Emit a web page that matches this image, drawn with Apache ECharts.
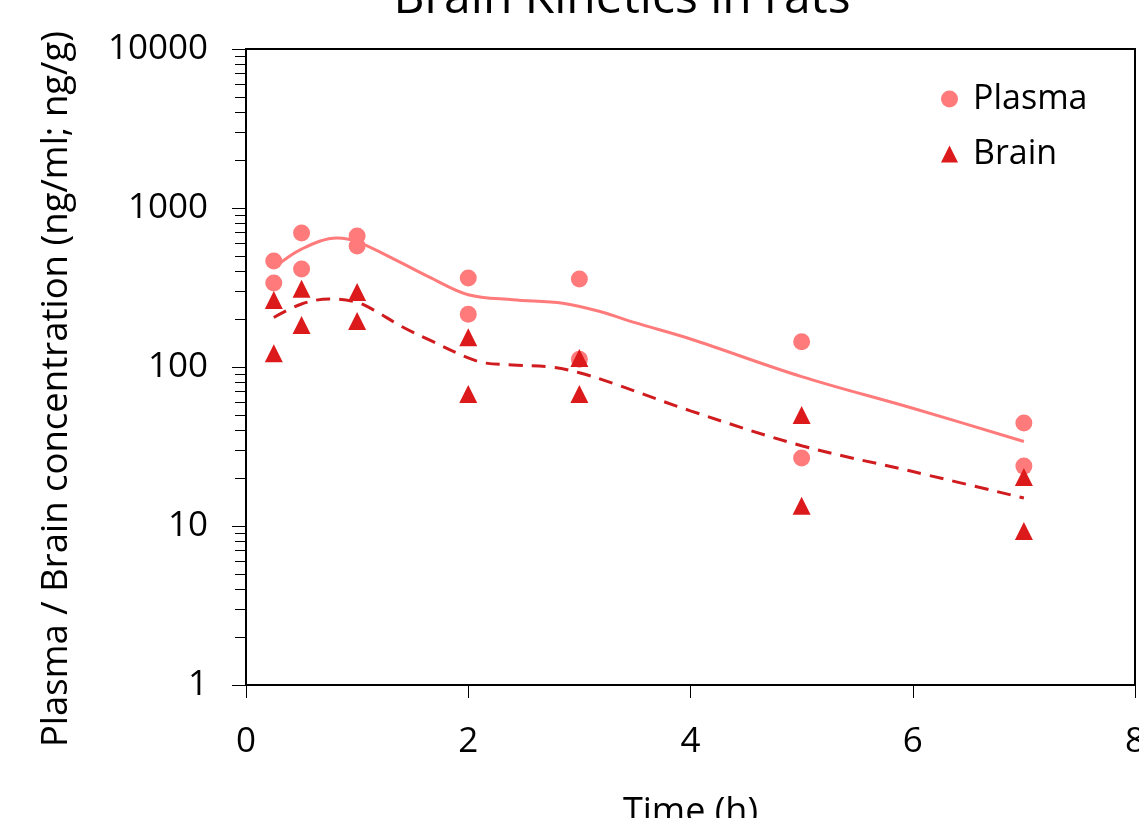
<!DOCTYPE html>
<html>
<head>
<meta charset="utf-8">
<script src="https://cdn.jsdelivr.net/npm/echarts@6/dist/echarts.min.js"></script>
<style>
  html, body { margin: 0; padding: 0; background: #fff; }
  #chart { width: 1139px; height: 818px; }
</style>
</head>
<body>
<div id="chart"></div>
<script>
// observed samples (two animals per time point)
var sampleTimes = [0.25, 0.25, 0.5, 0.5, 1, 1, 2, 2, 3, 3, 5, 5, 7, 7];
var plasmaValues = [464, 338, 697, 413, 667, 577, 363, 215, 358, 112, 144, 26.8, 44.4, 23.8];
var brainValues = [264, 122, 310, 184, 296, 195, 154, 67.6, 114, 67.6, 49.9, 13.4, 20.3, 9.3];

// fitted curves
var plasmaFitTimes = [0.25, 0.5, 0.82, 1, 1.35, 1.65, 2, 2.4, 2.85, 3.2, 3.5, 4, 5, 6, 7];
var plasmaFitValues = [420, 552, 648, 615, 470, 368, 285, 265, 252, 222, 190, 150, 87, 55, 34];
var brainFitTimes = [0.25, 0.5, 0.75, 1, 1.15, 1.4, 1.65, 2, 2.15, 2.4, 2.75, 3, 3.3, 4, 5, 6, 7];
var brainFitValues = [205, 249, 268, 255, 228, 180, 148, 114, 106, 103, 100, 92, 79, 53, 32, 22, 15];

var plasmaColor = '#ff7b7b';
var brainColor = '#dc1a1c';
var fontFamily = '"Open Sans", "Noto Sans", sans-serif';

var pairs = function (xs, ys) {
  var out = [];
  for (var i = 0; i < xs.length; i++) {
    out.push([xs[i], ys[i]]);
  }
  return out;
};

// minor tick positions of the log axis, in decades (for a hidden helper axis)
var minorTicks = [];
for (var d = 0; d < 4; d++) {
  for (var k = 2; k <= 9; k++) {
    minorTicks.push(d + Math.log10(k));
  }
}

var chart = echarts.init(document.getElementById('chart'), null, {renderer: 'canvas'});

var option = {
  animation: false,
  backgroundColor: '#fff',
  textStyle: {fontFamily: fontFamily},
  title: {
    text: 'Brain Kinetics in rats',
    left: 617,
    textAlign: 'center',
    top: -30,
    textStyle: {fontSize: 48, fontWeight: 'normal', color: '#000', fontFamily: fontFamily}
  },
  legend: {
    orient: 'vertical',
    left: 936,
    top: 74,
    itemWidth: 17,
    itemHeight: 17,
    itemGap: 15,
    data: ['Plasma', 'Brain'],
    textStyle: {fontSize: 34, color: '#000', lineHeight: 40, padding: [0, 0, 0, 10], fontFamily: fontFamily}
  },
  grid: {
    left: 246,
    right: 4,
    top: 49,
    bottom: 133,
    outerBoundsMode: 'none',
    show: true,
    borderColor: '#000',
    borderWidth: 2
  },
  graphic: [{
    type: 'text',
    x: 57,
    y: 389,
    rotation: Math.PI / 2,
    style: {
      text: 'Plasma / Brain concentration (ng/ml; ng/g)',
      fontSize: 36.5,
      fontFamily: fontFamily,
      fill: '#000',
      align: 'center',
      verticalAlign: 'middle'
    }
  }],
  xAxis: {
    type: 'value',
    min: 0,
    max: 8,
    interval: 2,
    name: 'Time (h)',
    nameLocation: 'middle',
    nameGap: 110,
    nameTextStyle: {fontSize: 36, color: '#000', fontFamily: fontFamily},
    axisLine: {lineStyle: {color: '#000', width: 2}},
    axisTick: {show: true, inside: false, length: 13, lineStyle: {color: '#000', width: 1}},
    axisLabel: {fontSize: 35, color: '#000', margin: 40, fontFamily: fontFamily},
    splitLine: {show: false}
  },
  yAxis: [{
    type: 'log',
    logBase: 10,
    min: 1,
    max: 10000,
    axisLine: {show: true, lineStyle: {color: '#000', width: 2}},
    axisTick: {show: true, inside: false, length: 14, lineStyle: {color: '#000', width: 1}},
    axisLabel: {
      fontSize: 35, color: '#000', margin: 38, fontFamily: fontFamily,
      formatter: function (v) { return String(v); }
    },
    splitLine: {show: false}
  }, {
    type: 'value',
    position: 'left',
    min: 0,
    max: 4,
    axisLine: {show: false},
    axisLabel: {show: false},
    splitLine: {show: false},
    axisTick: {show: true, inside: false, length: 11, customValues: minorTicks, lineStyle: {color: '#000', width: 1}}
  }],
  series: [{
    name: 'Plasma fit',
    type: 'line',
    smooth: 0.35,
    showSymbol: false,
    symbol: 'none',
    data: pairs(plasmaFitTimes, plasmaFitValues),
    lineStyle: {color: plasmaColor, width: 3},
    itemStyle: {color: plasmaColor},
    z: 2
  }, {
    name: 'Brain fit',
    type: 'line',
    smooth: 0.35,
    showSymbol: false,
    symbol: 'none',
    data: pairs(brainFitTimes, brainFitValues),
    lineStyle: {color: '#d01c1f', width: 3, type: [14, 9]},
    itemStyle: {color: '#d01c1f'},
    z: 2
  }, {
    name: 'Plasma',
    type: 'scatter',
    symbol: 'circle',
    symbolSize: 17,
    data: pairs(sampleTimes, plasmaValues),
    itemStyle: {color: plasmaColor, opacity: 1},
    z: 3
  }, {
    name: 'Brain',
    type: 'scatter',
    symbol: 'triangle',
    symbolSize: 18,
    data: pairs(sampleTimes, brainValues),
    itemStyle: {color: brainColor, opacity: 1},
    z: 4
  }]
};

chart.setOption(option);
</script>
</body>
</html>
